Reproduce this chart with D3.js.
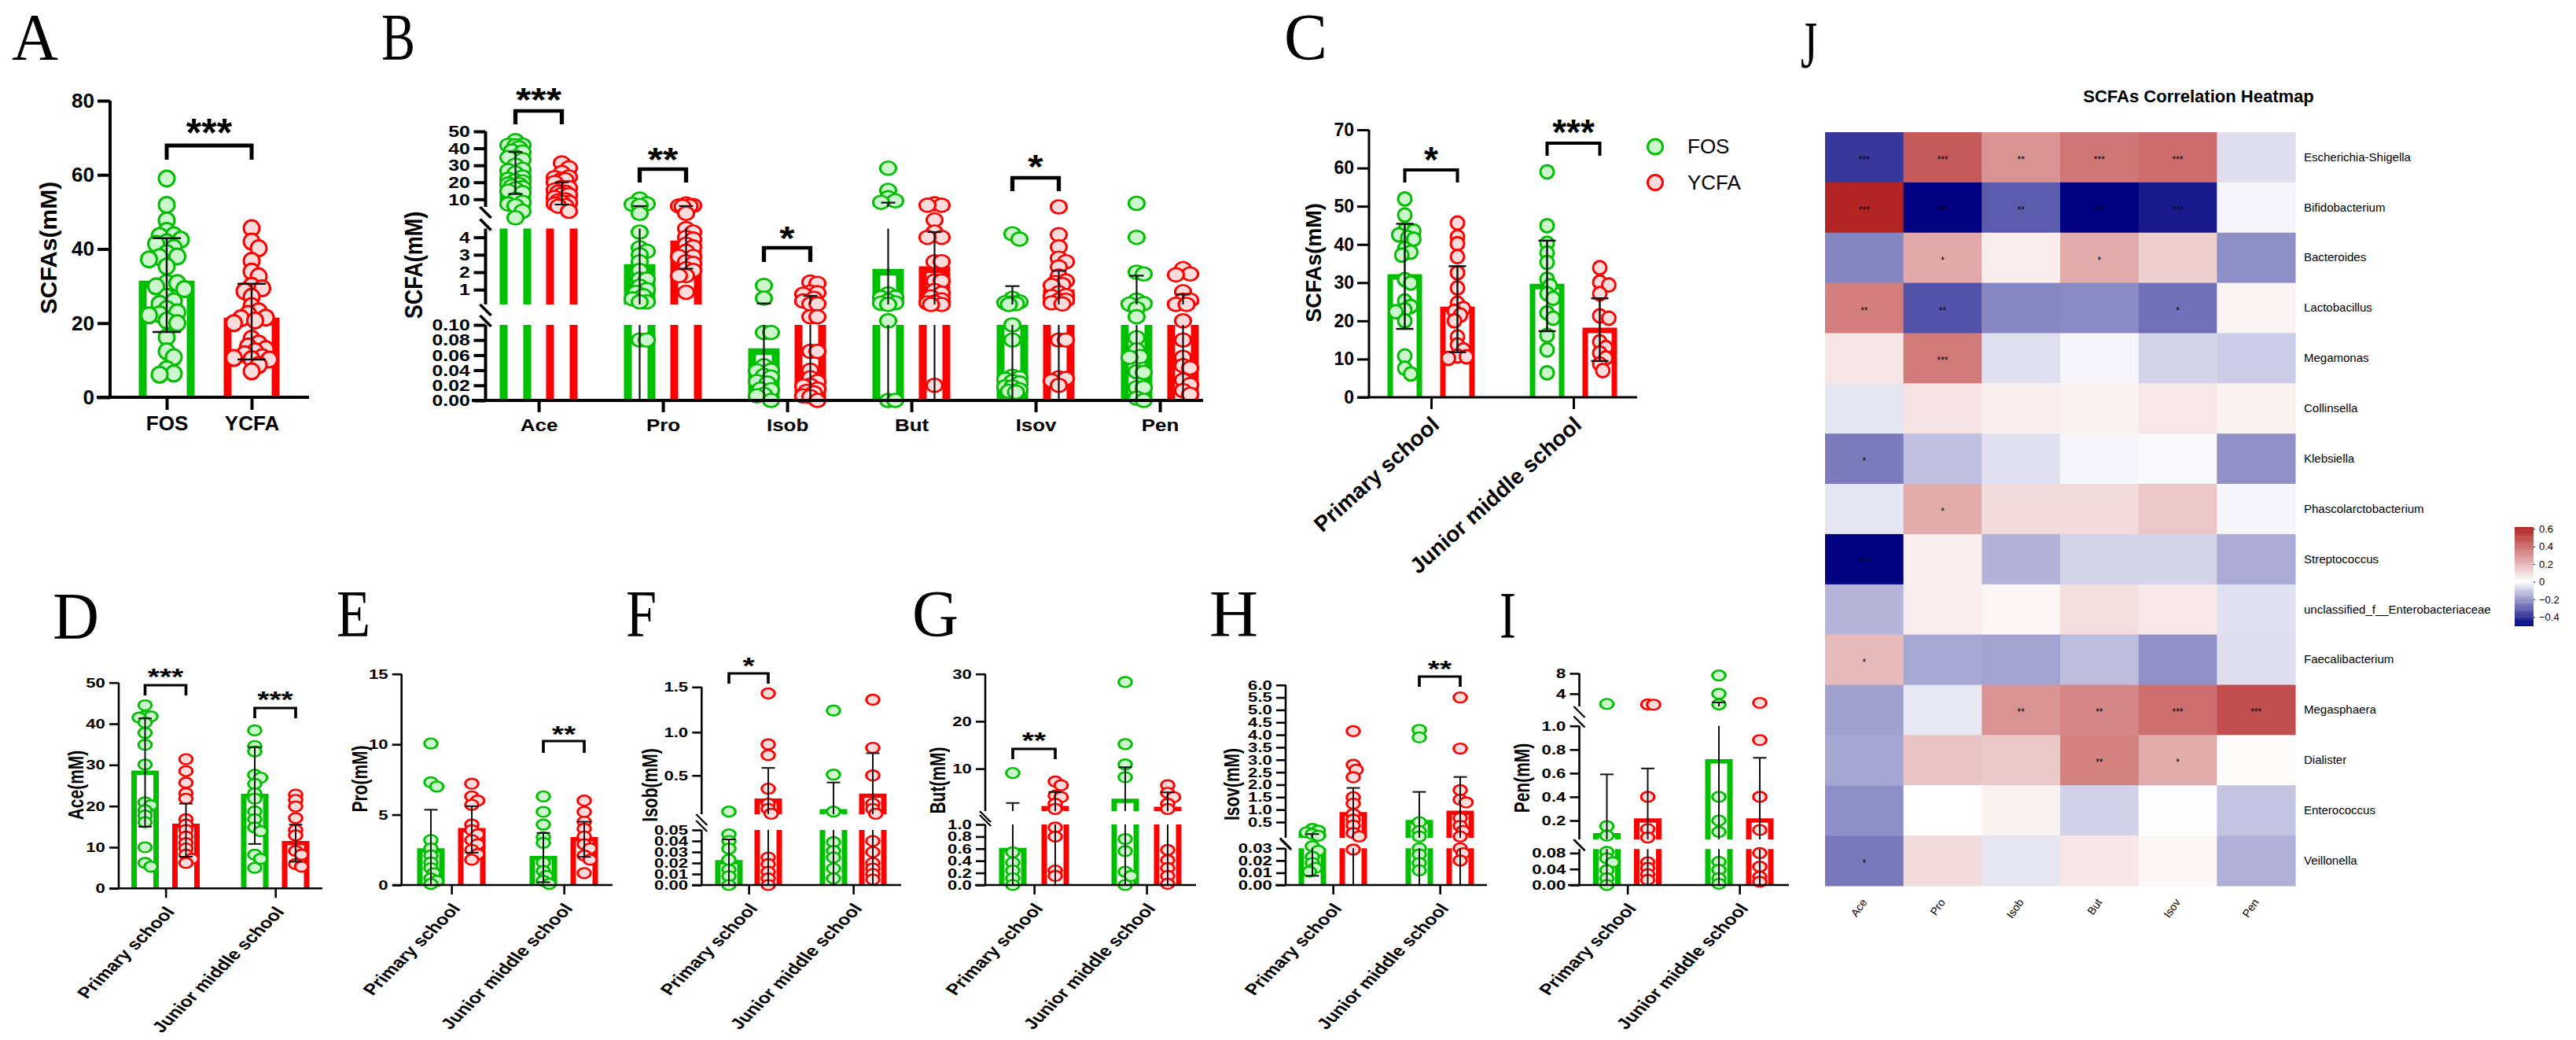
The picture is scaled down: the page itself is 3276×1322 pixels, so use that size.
<!DOCTYPE html>
<html lang="en">
<head>
<meta charset="UTF-8">
<title>SCFAs figure</title>
<script src="https://d3js.org/d3.v7.min.js"></script>
<style>
  body { margin: 0; background: #fff; }
  text { font-family: "Liberation Sans", Arial, sans-serif; fill: #000; }
</style>
</head>
<body>
<div id="mainbody"></div>
<script>
// ---- categories
const arms = ["FOS", "YCFA"];
const schools = ["Primary school", "Junior middle school"];
const acids = ["Ace", "Pro", "Isob", "But", "Isov", "Pen"];
const taxa = ["Escherichia-Shigella", "Bifidobacterium", "Bacteroides", "Lactobacillus", "Megamonas", "Collinsella",
  "Klebsiella", "Phascolarctobacterium", "Streptococcus", "unclassified_f__Enterobacteriaceae", "Faecalibacterium",
  "Megasphaera", "Dialister", "Enterococcus", "Veillonella"];

// ---- panel C, total SCFAs per sample (A is the same samples pooled)
const totalFosPrimary = [51.9, 47.7, 43.7, 43.5, 42.5, 41.8, 41.4, 38.9, 38, 37.2, 30.8, 29.9, 25.2, 23.8, 22.9, 22.4, 20, 10.8, 7.6, 6.1];
const totalYcfaPrimary = [45.6, 42, 40.2, 36.8, 32.6, 28.6, 24.6, 23.2, 22.5, 21.5, 20, 15.8, 13.7, 12.4, 10.8, 10.6, 10.2];
const totalFosJunior = [59, 44.9, 40.3, 37.8, 35.3, 30.9, 29.2, 27.1, 25.9, 22.1, 20.7, 16.2, 12.4, 6.4];
const totalYcfaJunior = [33.9, 30.1, 29.4, 27.1, 21.3, 20.7, 14.5, 13, 11.6, 10.3, 8.7, 7];
const meansC = [31.5, 23, 29, 17.5], hiC = [45.4, 34.3, 41, 25.9], loC = [17.9, 11.8, 17.3, 9.5];
const meansA = [30.4, 20.4], hiA = [42.9, 30.6], loA = [17.6, 10.2];

// ---- panel D, acetate
const aceFosPrimary = [44.5, 41.9, 41.8, 41.5, 40.3, 37.8, 34.9, 30.1, 20.9, 20.2, 19, 17.7, 16.1, 10, 6.2, 5.3];
const aceYcfaPrimary = [31.4, 28.5, 25.7, 23.1, 21.8, 16.8, 15.5, 14.2, 12.6, 11, 9.7, 8.2, 7.2, 6.2];
const aceFosJunior = [38.4, 34.6, 33.3, 27.6, 26.9, 25.4, 23.1, 21.8, 18.7, 16.8, 14.8, 13.9, 8.2, 7.2, 5];
const aceYcfaJunior = [22.8, 21.5, 19.9, 17.1, 14.2, 12.9, 9.1, 8.2, 5.9, 5.3];
const meansD = [28.1, 15.2, 22.5, 11], hiD = [41.3, 20.6, 34.3, 15.5], loD = [15, 7.7, 10.8, 6.5];

// ---- panel E, propionate
const proFosPrimary = [10.06, 7.3, 7, 3.2, 2.6, 2.1, 1.6, 1.2, 0.84, 0.47, 0.3, 0.08];
const proYcfaPrimary = [7.2, 6.3, 6, 5.7, 4.3, 3.9, 3.6, 3.2, 2.9, 2.5, 2.2, 1.8];
const proFosJunior = [6.3, 5.2, 4.3, 3.4, 3, 1.6, 1, 0.65, 0.3, 0.08];
const proYcfaJunior = [6, 5.2, 4.5, 4, 3.45, 2.9, 2.6, 2.1, 1.8, 0.85];
const meansE = [2.46, 3.9, 1.92, 3.26], hiE = [5.35, 5.6, 3.7, 4.5], loE = [0, 2.3, 0.2, 2];

// ---- panel F, isobutyrate
const isobFosPrimary = [0.09, 0.046, 0.04, 0.033, 0.023, 0.014, 0.008, 0];
const isobYcfaPrimary = [1.43, 0.86, 0.735, 0.35, 0.18, 0.12, 0.065, 0.025, 0.019, 0.012, 0.006, 0];
const isobFosJunior = [1.24, 0.51, 0.09, 0.039, 0.031, 0.025, 0.015, 0.006];
const isobYcfaJunior = [1.36, 0.82, 0.5, 0.18, 0.12, 0.065, 0.04, 0.03, 0.02, 0.015, 0.01, 0.005];
const meansF = [0.0207, 0.214, 0.095, 0.27], hiF = [0.0414, 0.587, 0.42, 0.757], loF = [0, 0, 0, 0];

// ---- panel G, butyrate
const butFosPrimary = [9.1, 0.54, 0.37, 0.24, 0.11, 0];
const butYcfaPrimary = [7.3, 6.5, 4.3, 4, 2.6, 1.5, 0.95, 0.8, 0.24, 0.15];
const butFosJunior = [28.3, 15.2, 10.9, 8.2, 0.76, 0.56, 0.22, 0.15, 0];
const butYcfaJunior = [6.5, 4.9, 4, 2.6, 1.5, 0.58, 0.41, 0.28, 0.15, 0.02];
const meansG = [0.58, 1.7, 3.2, 1.5], hiG = [2.75, 5.07, 10.3, 5], loG = [0, 0, 0, 0];

// ---- panel H, isovalerate
const isovFosPrimary = [0.3, 0.25, 0.2, 0.15, 0.1, 0.032, 0.028, 0.023, 0.018, 0.014, 0.011];
const isovYcfaPrimary = [4.15, 2.8, 2.6, 2.3, 1.5, 1.24, 0.82, 0.6, 0.4, 0.18, 0.08, 0.029];
const isovFosJunior = [4.2, 3.9, 0.5, 0.24, 0.08, 0.03, 0.025, 0.018, 0.012];
const isovYcfaJunior = [5.5, 3.45, 1.78, 1.4, 1.29, 0.66, 0.39, 0.24, 0.08, 0.03, 0.026, 0.02];
const meansH = [0.13, 0.82, 0.5, 0.87], hiH = [0.15, 1.87, 1.71, 2.31], loH = [0.0075, 0, 0, 0];

// ---- panel I, valerate
const penFosPrimary = [2, 0.17, 0.12, 0.083, 0.067, 0.057, 0.037, 0.017, 0];
const penYcfaPrimary = [1.9, 1.85, 0.4, 0.155, 0.11, 0.057, 0.043, 0.027, 0.013];
const penFosJunior = [7.6, 4, 1.9, 0.4, 0.2, 0.14, 0.058, 0.038, 0.017, 0.003];
const penYcfaJunior = [2.2, 0.88, 0.4, 0.15, 0.08, 0.046, 0.021, 0.008];
const meansI = [0.122, 0.2, 0.7, 0.2], hiI = [0.59, 0.64, 2.3, 0.73], loI = [0, 0, 0, 0];

// ---- panel B, bars per acid: FOS, YCFA, FOS, YCFA ...
const meansB = [25.4, 15.4, 2.27, 3.62, 0.0646, 0.2, 2, 2.15, 0.21, 0.83, 0.21, 0.2];
const hiB = [37.8, 20, 6, 6, 0.21, 0.64, 8, 4.3, 1.2, 2.08, 1.8, 0.72];
const loB = [13.1, 6.9, 0, 2.2, 0, 0, 0, 0, 0, 0, 0, 0];

// ---- panel J, correlation per taxon (rows), acid (columns)
const heatValues = [
  [-0.39, 0.46, 0.30, 0.38, 0.41, -0.065],
  [0.61, -0.5, -0.32, -0.5, -0.45, -0.02],
  [-0.24, 0.24, 0.05, 0.23, 0.13, -0.22],
  [0.355, -0.34, -0.235, -0.23, -0.28, 0.03],
  [0.07, 0.37, -0.06, -0.015, -0.085, -0.1],
  [-0.05, 0.075, 0.045, 0.04, 0.065, 0.035],
  [-0.26, -0.125, -0.06, -0.02, -0.01, -0.215],
  [-0.05, 0.23, 0.1, 0.1, 0.155, -0.02],
  [-0.5, 0.045, -0.15, -0.085, -0.085, -0.165],
  [-0.145, 0.05, 0.025, 0.09, 0.06, -0.06],
  [0.19, -0.17, -0.18, -0.13, -0.215, -0.065],
  [-0.185, -0.045, 0.3, 0.335, 0.4, 0.49],
  [-0.175, 0.165, 0.15, 0.35, 0.23, 0.01],
  [-0.22, 0, 0.04, -0.09, 0.005, -0.115],
  [-0.265, 0.1, -0.05, 0.07, 0.025, -0.155]
];
const heatStars = [
  ["***", "***", "**", "***", "***", ""],
  ["***", "***", "**", "***", "***", ""],
  ["", "*", "", "*", "", ""],
  ["**", "**", "", "", "*", ""],
  ["", "***", "", "", "", ""],
  ["", "", "", "", "", ""],
  ["*", "", "", "", "", ""],
  ["", "*", "", "", "", ""],
  ["***", "", "", "", "", ""],
  ["", "", "", "", "", ""],
  ["*", "", "", "", "", ""],
  ["", "", "**", "**", "***", "***"],
  ["", "", "", "**", "*", ""],
  ["", "", "", "", "", ""],
  ["*", "", "", "", "", ""]
];
const barTicks = [0.6, 0.4, 0.2, 0, -0.2, -0.4];

const lineCol = ["#00BF00", "#FF0000"];
const fillCol = ["#CCF7CC", "#FFDCDC"];

const svg = d3.select("#mainbody").append("svg")
  .attr("width", 3276).attr("height", 1322)
  .style("display", "block");

// panel letters
const letters = [["A", 15, 76, 59], ["B", 485, 76, 43], ["C", 1633, 76, 55], ["J", 2290, 86, 21],
  ["D", 67, 812, 59], ["E", 428, 809, 43], ["F", 796, 809, 39], ["G", 1160, 809, 59], ["H", 1538, 809, 62], ["I", 1907, 811, 21]];
svg.selectAll(".letter").data(letters).enter().append("text")
  .attr("class", "letter")
  .attr("x", d => d[1]).attr("y", d => d[2])
  .attr("textLength", d => d[3]).attr("lengthAdjust", "spacingAndGlyphs")
  .style("font-family", "'Liberation Serif'").style("font-size", "84px")
  .text(d => d[0]);

// spreads points sideways, inside a limit, overlapping when there is no more room
function swarm(values, y, r, limit) {
  const placed = [];
  const step = r * 0.45;
  const n = Math.floor(limit / step);
  values.slice().sort((a, b) => b - a).forEach(v => {
    const py = y(v);
    let off = 0, best = -1;
    for (let k = 0; k <= 2 * n; k++) {
      const c = (k % 2 ? 1 : -1) * Math.ceil(k / 2) * step;
      const near = placed.length ? d3.min(placed, p => Math.hypot(p.dx - c, p.y - py)) : Infinity;
      if (near > best) { best = near; off = c; }
      if (near >= r * 1.02) break;
    }
    placed.push({ v: v, y: py, dx: off });
  });
  return placed;
}

function drawPanel(c) {
  const sx = c.sx;
  const g = svg.append("g").attr("transform", `scale(${sx},1)`);
  const y = d3.scaleLinear().domain(c.yDomain).range(c.yRange);
  const x = d3.scalePoint().domain(c.cats).range(c.catX.map(v => v / sx));
  const per = c.means.length / c.cats.length;
  const off = c.off / sx;
  const cx = i => x(c.cats[Math.floor(i / per)]) + (per === 1 ? 0 : (i % per === 0 ? -off : off));
  const col = i => i % 2;
  const halfBar = (c.barW - c.barStroke) / 2 / sx;

  // bars, one hollow box piece in each axis segment
  c.means.forEach((m, i) => {
    c.segs.forEach(s => {
      if (m <= s[0]) return;
      const yb = y(s[0]), top = m <= s[1];
      const yt = y(Math.min(m, s[1]));
      const path = top
        ? `M${cx(i) - halfBar},${yb}V${yt}H${cx(i) + halfBar}V${yb}`
        : `M${cx(i) - halfBar},${yb}V${yt}M${cx(i) + halfBar},${yb}V${yt}`;
      g.append("path").attr("d", path).attr("fill", "none")
        .attr("stroke", lineCol[col(i)]).attr("stroke-width", c.barStroke / sx);
    });
  });

  // single samples
  c.pts.forEach((vals, i) => {
    g.selectAll(null).data(swarm(vals, y, c.r, c.spread / sx)).enter().append("circle")
      .attr("cx", d => cx(i) + d.dx).attr("cy", d => d.y).attr("r", c.r)
      .attr("fill", fillCol[col(i)]).attr("stroke", lineCol[col(i)]).attr("stroke-width", c.ptStroke);
  });

  // mean +- SD, broken with the axis
  c.means.forEach((m, i) => {
    const capH = c.capW / 2 / sx;
    c.segs.forEach(s => {
      const a = Math.max(c.lo[i], s[0]), b = Math.min(c.hi[i], s[1]);
      if (a >= b) return;
      g.append("line").attr("x1", cx(i)).attr("x2", cx(i)).attr("y1", y(a)).attr("y2", y(b))
        .attr("stroke", "#111").attr("stroke-width", c.errStroke / sx);
      [c.hi[i], c.lo[i]].forEach(e => {
        if (e <= s[0] || e > s[1]) return;
        g.append("line").attr("x1", cx(i) - capH).attr("x2", cx(i) + capH).attr("y1", y(e)).attr("y2", y(e))
          .attr("stroke", "#111").attr("stroke-width", c.errStroke);
      });
    });
  });

  // axes
  const yAxis = d3.axisLeft(y).tickValues(c.ticks).tickSize(c.tickLen / sx).tickPadding(4);
  if (c.fmt) yAxis.tickFormat(c.fmt);
  const yG = g.append("g").attr("transform", `translate(${c.axisX / sx},0)`).call(yAxis);
  yG.select(".domain").remove();
  yG.selectAll(".tick line").attr("stroke", "#000").attr("stroke-width", c.axisStroke);
  yG.selectAll("text").style("font-size", c.tickFs + "px").style("font-weight", "bold").style("font-family", "'Liberation Sans'");
  c.segs.forEach(s => {
    g.append("line").attr("x1", c.axisX / sx).attr("x2", c.axisX / sx).attr("y1", y(s[0])).attr("y2", y(s[1]))
      .attr("stroke", "#000").attr("stroke-width", c.axisStroke / sx);
  });
  // break marks
  c.segs.slice(1).forEach((s, k) => {
    const below = y(c.segs[k][1]) - 5, above = y(s[0]) + 7;
    [below, above].forEach(b => {
      g.append("line").attr("x1", (c.axisX - 7) / sx).attr("x2", (c.axisX + 7) / sx).attr("y1", b - 7).attr("y2", b + 7)
        .attr("stroke", "#000").attr("stroke-width", c.axisStroke / sx);
    });
  });

  const xAxis = d3.axisBottom(x).tickSize(c.tickLen).tickPadding(c.xPad);
  const xG = g.append("g").attr("transform", `translate(0,${y(0)})`).call(xAxis);
  xG.select(".domain").remove();
  xG.selectAll(".tick line").attr("stroke", "#000").attr("stroke-width", c.axisStroke / sx);
  g.append("line").attr("x1", c.axisLeft / sx).attr("x2", c.axisRight / sx).attr("y1", y(0)).attr("y2", y(0))
    .attr("stroke", "#000").attr("stroke-width", c.axisStroke);
  const xt = xG.selectAll("text").style("font-size", c.xFs + "px").style("font-weight", "bold").style("font-family", "'Liberation Sans'");
  if (c.xRot) {
    xt.attr("text-anchor", "end").attr("x", 0).attr("y", 0).attr("dy", ".35em")
      .attr("transform", `translate(${c.xShift / sx},${c.xDrop}) rotate(${c.xRot})`);
  }

  // axis title
  g.append("text").attr("text-anchor", "middle").attr("dy", ".35em")
    .attr("transform", `translate(${c.labelX / sx},${c.labelY}) rotate(-90)`)
    .style("font-size", c.labelFs + "px").style("font-weight", "bold")
    .text(c.label);

  // significance brackets
  (c.brackets || []).forEach(b => {
    const xa = cx(b.from), xb = cx(b.to);
    g.append("path").attr("d", `M${xa},${b.top + b.h}V${b.top}H${xb}V${b.top + b.h}`)
      .attr("fill", "none").attr("stroke", "#000").attr("stroke-width", c.brStroke);
    g.append("text").attr("x", (xa + xb) / 2).attr("y", b.cy + c.starFs * 0.56)
      .attr("text-anchor", "middle").style("font-size", c.starFs + "px").style("font-weight", "bold")
      .text(b.stars);
  });
}

drawPanel({
  sx: 1, cats: arms, catX: [212, 320], off: 0,
  yDomain: [0, 80], yRange: [505, 128], segs: [[0, 80]], ticks: [0, 20, 40, 60, 80],
  means: meansA, hi: hiA, lo: loA,
  pts: [totalFosPrimary.concat(totalFosJunior), totalYcfaPrimary.concat(totalYcfaJunior)],
  r: 10, ptStroke: 3, spread: 26, barW: 71, barStroke: 10, capW: 36, errStroke: 2.5,
  axisX: 140, axisLeft: 123, axisRight: 393, axisStroke: 4, tickLen: 16, tickFs: 26, xFs: 26, xPad: 8,
  label: "SCFAs(mM)", labelX: 61, labelY: 315, labelFs: 30, brStroke: 5, starFs: 50,
  brackets: [{ from: 0, to: 1, top: 185, h: 18, cy: 158, stars: "***" }]
});

drawPanel({
  sx: 1.18, cats: acids, catX: [685, 1475], off: 29.5,
  yDomain: [0, 0.1, 0.15, 4.5, 5.5, 50], yRange: [509, 413, 387, 290.6, 263, 167],
  segs: [[0, 0.1], [0.15, 4.5], [5.5, 50]],
  ticks: [0, 0.02, 0.04, 0.06, 0.08, 0.1, 1, 2, 3, 4, 10, 20, 30, 40, 50],
  fmt: v => v >= 1 ? d3.format("d")(v) : d3.format(".2f")(v),
  means: meansB, hi: hiB, lo: loB,
  pts: [aceFosPrimary.concat(aceFosJunior), aceYcfaPrimary.concat(aceYcfaJunior),
    proFosPrimary.concat(proFosJunior), proYcfaPrimary.concat(proYcfaJunior),
    isobFosPrimary.concat(isobFosJunior), isobYcfaPrimary.concat(isobYcfaJunior),
    butFosPrimary.concat(butFosJunior), butYcfaPrimary.concat(butYcfaJunior),
    isovFosPrimary.concat(isovFosJunior), isovYcfaPrimary.concat(isovYcfaJunior),
    penFosPrimary.concat(penFosJunior), penYcfaPrimary.concat(penYcfaJunior)],
  r: 8.5, ptStroke: 2.6, spread: 11, barW: 40, barStroke: 10, capW: 18, errStroke: 2.2,
  axisX: 617.5, axisLeft: 600, axisRight: 1530, axisStroke: 4, tickLen: 15, tickFs: 21, xFs: 22, xPad: 8,
  label: "SCFA(mM)", labelX: 526, labelY: 337, labelFs: 27, brStroke: 4.5, starFs: 42,
  brackets: [
    { from: 0, to: 1, top: 141, h: 17, cy: 117, stars: "***" },
    { from: 2, to: 3, top: 215, h: 17, cy: 193, stars: "**" },
    { from: 4, to: 5, top: 315, h: 18, cy: 293, stars: "*" },
    { from: 8, to: 9, top: 226, h: 17, cy: 202, stars: "*" }
  ]
});

drawPanel({
  sx: 1, cats: schools, catX: [1820, 2001], off: 33.5,
  yDomain: [0, 70], yRange: [505, 165], segs: [[0, 70]], ticks: d3.range(0, 71, 10),
  means: meansC, hi: hiC, lo: loC,
  pts: [totalFosPrimary, totalYcfaPrimary, totalFosJunior, totalYcfaJunior],
  r: 8.5, ptStroke: 3, spread: 14, barW: 44, barStroke: 7, capW: 22, errStroke: 2.5,
  axisX: 1741, axisLeft: 1726, axisRight: 2082, axisStroke: 3, tickLen: 15, tickFs: 23, xFs: 28, xPad: 8,
  xRot: -42, xShift: 5, xDrop: 30,
  label: "SCFAs(mM)", labelX: 1671, labelY: 334, labelFs: 27, brStroke: 4, starFs: 46,
  brackets: [
    { from: 0, to: 1, top: 216, h: 16, cy: 193, stars: "*" },
    { from: 2, to: 3, top: 182, h: 16, cy: 158, stars: "***" }
  ]
});

// shared settings of the small lower panels
const small = {
  sx: 1.3, cats: schools, off: 26, r: 6.4, ptStroke: 2.4, spread: 11, barW: 35, barStroke: 7, capW: 17, errStroke: 2,
  axisStroke: 2.6, tickLen: 12, tickFs: 17, xFs: 19.5, xPad: 8, xRot: -52, xShift: 5, xDrop: 26,
  labelFs: 21, brStroke: 2.8, starFs: 30
};

drawPanel(Object.assign({}, small, {
  catX: [210.5, 350], yDomain: [0, 50], yRange: [1129.3, 867.7], segs: [[0, 50]], ticks: d3.range(0, 51, 10),
  means: meansD, hi: hiD, lo: loD, pts: [aceFosPrimary, aceYcfaPrimary, aceFosJunior, aceYcfaJunior],
  axisX: 151, axisLeft: 139, axisRight: 410, label: "Ace(mM)", labelX: 96, labelY: 998,
  brackets: [
    { from: 0, to: 1, top: 871, h: 13, cy: 853, stars: "***" },
    { from: 2, to: 3, top: 900, h: 13, cy: 882, stars: "***" }
  ]
}));

drawPanel(Object.assign({}, small, {
  catX: [574, 717], yDomain: [0, 15], yRange: [1125, 856.7], segs: [[0, 15]], ticks: [0, 5, 10, 15],
  means: meansE, hi: hiE, lo: loE, pts: [proFosPrimary, proYcfaPrimary, proFosJunior, proYcfaJunior],
  axisX: 510.7, axisLeft: 499, axisRight: 779, label: "Pro(mM)", labelX: 457, labelY: 990,
  brackets: [{ from: 2, to: 3, top: 942, h: 15, cy: 926, stars: "**" }]
}));

drawPanel(Object.assign({}, small, {
  catX: [952, 1085], off: 25, yDomain: [0, 0.05, 0.06, 0.5, 1, 1.5], yRange: [1125, 1055, 1035, 985.7, 930.7, 873.3],
  segs: [[0, 0.05], [0.06, 1.5]], ticks: [0, 0.01, 0.02, 0.03, 0.04, 0.05, 0.5, 1, 1.5],
  fmt: v => v <= 0.05 ? d3.format(".2f")(v) : d3.format(".1f")(v),
  means: meansF, hi: hiF, lo: loF, pts: [isobFosPrimary, isobYcfaPrimary, isobFosJunior, isobYcfaJunior],
  axisX: 892.3, axisLeft: 880, axisRight: 1146, label: "Isob(mM)", labelX: 826, labelY: 998,
  brackets: [{ from: 0, to: 1, top: 856, h: 13, cy: 839, stars: "*" }]
}));

drawPanel(Object.assign({}, small, {
  catX: [1315, 1458], off: 27, yDomain: [0, 1, 1.05, 30], yRange: [1125, 1048, 1031, 856.7],
  segs: [[0, 1], [1.05, 30]], ticks: [0, 0.2, 0.4, 0.6, 0.8, 1, 10, 20, 30],
  fmt: v => v <= 1 ? d3.format(".1f")(v) : d3.format("d")(v),
  means: meansG, hi: hiG, lo: loG, pts: [butFosPrimary, butYcfaPrimary, butFosJunior, butYcfaJunior],
  axisX: 1253, axisLeft: 1240, axisRight: 1521, label: "But(mM)", labelX: 1192.6, labelY: 992,
  brackets: [{ from: 0, to: 1, top: 952, h: 13, cy: 934, stars: "**" }]
}));

drawPanel(Object.assign({}, small, {
  catX: [1695, 1831], yDomain: [0, 0.03, 0.04, 0.5, 6], yRange: [1125, 1078.3, 1065, 1045, 870.7],
  segs: [[0, 0.03], [0.04, 6]], ticks: [0, 0.01, 0.02, 0.03].concat(d3.range(0.5, 6.01, 0.5)),
  fmt: v => v <= 0.03 ? d3.format(".2f")(v) : d3.format(".1f")(v),
  means: meansH, hi: hiH, lo: loH, pts: [isovFosPrimary, isovYcfaPrimary, isovFosJunior, isovYcfaJunior],
  axisX: 1635, axisLeft: 1622, axisRight: 1891, label: "Isov(mM)", labelX: 1566.5, labelY: 997,
  brackets: [{ from: 2, to: 3, top: 860, h: 13, cy: 843, stars: "**" }]
}));

drawPanel(Object.assign({}, small, {
  catX: [2069.5, 2212], yDomain: [0, 0.09, 0.1, 0.2, 1, 1.5, 8], yRange: [1125, 1079.3, 1067, 1043, 922.7, 898, 856],
  segs: [[0, 0.09], [0.1, 1], [1.5, 8]], ticks: [0, 0.04, 0.08, 0.2, 0.4, 0.6, 0.8, 1, 4, 8],
  fmt: v => v >= 4 ? d3.format("d")(v) : (v >= 0.2 ? d3.format(".1f")(v) : d3.format(".2f")(v)),
  means: meansI, hi: hiI, lo: loI, pts: [penFosPrimary, penYcfaPrimary, penFosJunior, penYcfaJunior],
  axisX: 2008.5, axisLeft: 1994, axisRight: 2275, label: "Pen(mM)", labelX: 1935, labelY: 989
}));

// legend next to C
arms.forEach((a, i) => {
  svg.append("circle").attr("cx", 2105).attr("cy", 186.5 + i * 45.5).attr("r", 9.5)
    .attr("fill", fillCol[i]).attr("stroke", lineCol[i]).attr("stroke-width", 3);
  svg.append("text").attr("x", 2146).attr("y", 195 + i * 45.5).style("font-size", "26px").text(a);
});

// ---- J heatmap
const hx = d3.scaleBand().domain(acids).range([2321, 2919]);
const hy = d3.scaleBand().domain(taxa).range([168, 1126]);
const heatCol = d3.scaleLinear().domain([-0.5, 0, 0.615]).range(["#000080", "#FFFFFF", "#B22222"]).clamp(true);

const heatRows = svg.append("g").selectAll("g").data(heatValues).enter().append("g")
  .attr("transform", (d, i) => `translate(0,${hy(taxa[i])})`);
heatRows.selectAll("rect").data(d => d).enter().append("rect")
  .attr("x", (d, j) => hx(acids[j])).attr("width", hx.bandwidth() + 0.5).attr("height", hy.bandwidth() + 0.5)
  .attr("fill", d => heatCol(d));
heatRows.selectAll("text").data((d, i) => heatStars[i]).enter().append("text")
  .attr("x", (d, j) => hx(acids[j]) + hx.bandwidth() / 2).attr("y", hy.bandwidth() / 2 + 7)
  .attr("text-anchor", "middle").style("font-size", "12px").text(d => d);

svg.append("text").attr("x", 2796).attr("y", 130).attr("text-anchor", "middle")
  .style("font-size", "22px").style("font-weight", "bold").text("SCFAs Correlation Heatmap");

const rowG = svg.append("g").attr("transform", "translate(2924,0)")
  .call(d3.axisRight(hy).tickSize(0).tickPadding(6));
rowG.select(".domain").remove();
rowG.selectAll("text").style("font-size", "15px").style("font-family", "'Liberation Sans'").attr("fill", "#222");

const colG = svg.append("g").attr("transform", "translate(0,1144)")
  .call(d3.axisBottom(hx).tickSize(0).tickPadding(0));
colG.select(".domain").remove();
colG.selectAll("text").attr("text-anchor", "end").attr("y", 0).attr("dy", ".35em")
  .attr("transform", "rotate(-55)").style("font-size", "14px").style("font-family", "'Liberation Sans'");

// colour bar
const cy = d3.scaleLinear().domain([-0.5, 0.615]).range([795.5, 670.5]);
svg.append("g").selectAll("rect").data(d3.range(-0.5, 0.615, 0.01)).enter().append("rect")
  .attr("x", 3198).attr("width", 24)
  .attr("y", d => cy(d + 0.01)).attr("height", d => cy(d) - cy(d + 0.01) + 0.5)
  .attr("fill", d => heatCol(d));
const barG = svg.append("g").attr("transform", "translate(3222,0)")
  .call(d3.axisRight(cy).tickValues(barTicks).tickSize(2).tickPadding(5).tickFormat(d3.format("")));
barG.select(".domain").remove();
barG.selectAll("text").style("font-size", "13px").style("font-family", "'Liberation Sans'");
</script>
</body>
</html>
